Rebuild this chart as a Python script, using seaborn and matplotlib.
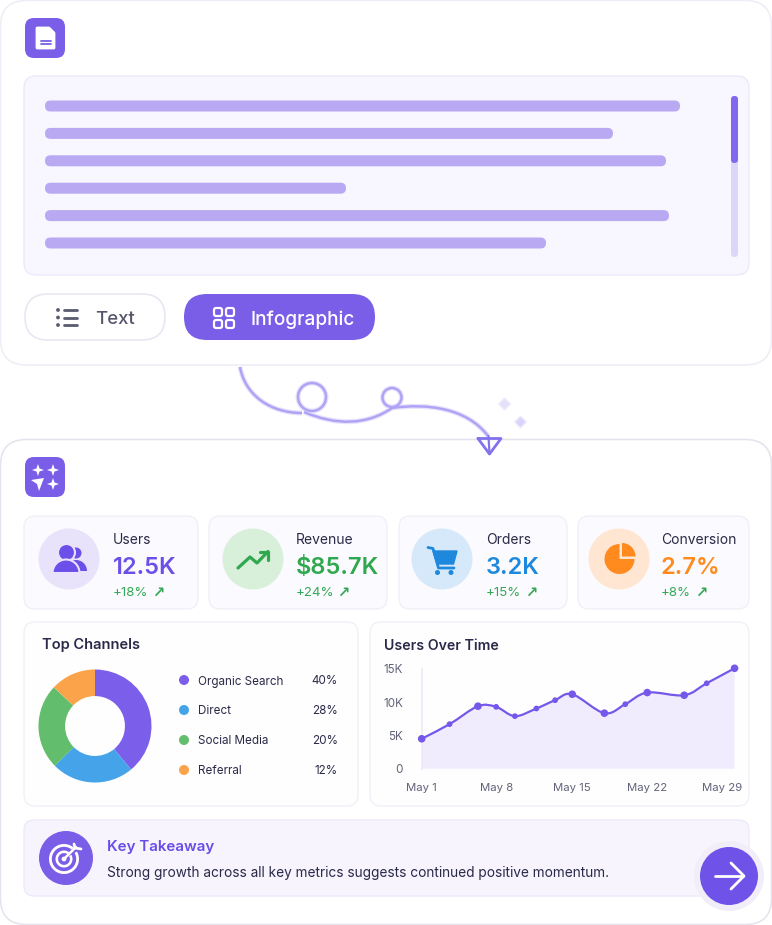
"""Text -> infographic dashboard mock-up, drawn on one pixel-space canvas."""

import matplotlib
matplotlib.use("Agg")
import matplotlib.pyplot as plt
from matplotlib.patches import Circle, FancyBboxPatch, PathPatch, Polygon, Wedge
from matplotlib.path import Path
import numpy as np
import pandas as pd
import seaborn as sns

# ── Data ───────────────────────────────────────────────────────────────────────
line_ends = [680, 613, 666, 346, 669, 546]

kpi_names = ["Users", "Revenue", "Orders", "Conversion"]
kpi_values = ["12.5K", "$85.7K", "3.2K", "2.7%"]
kpi_deltas = ["+18%", "+24%", "+15%", "+8%"]

channel_names = ["Organic Search", "Direct", "Social Media", "Referral"]
channel_labels = ["40%", "28%", "20%", "12%"]
channel_drawn = [39, 23.6, 24.4, 13]  # the slices as drawn differ from their labels

user_days = [0, 2.6, 5.25, 6.95, 8.7, 10.7, 12.45, 14.05, 17.05, 19, 21.05, 24.5, 26.6, 29.2]
user_counts = [4.5, 6.7, 9.4, 9.3, 7.9, 9.05, 10.3, 11.2, 8.35, 9.7, 11.45, 11.05, 12.85, 15.1]
user_big_dot = [1, 0, 1, 0, 0, 0, 0, 1, 1, 0, 1, 1, 0, 1]
y_ticks = [0, 5, 10, 15]
y_tick_labels = ["0", "5K", "10K", "15K"]
x_ticks = [0, 7, 14, 21, 28]
x_tick_labels = ["May 1", "May 8", "May 15", "May 22", "May 29"]

# ── Style ──────────────────────────────────────────────────────────────────────
W, H = 772, 925
PURPLE = "#7A5EE8"
INK = "#2A2A48"
GREEN = "#35A855"
LINE = "#EEECF5"
PANEL_EDGE = "#F0EEF7"
CURVE = "#AFA3F5"
KPI_COLOURS = ["#6C4FE8", "#2FA84F", "#1E88DC", "#FF8A1E"]
KPI_TINTS = ["#E8E2FB", "#D8F0D9", "#D6E9FA", "#FFE6D3"]
SLICE_COLOURS = ["#7B5FEA", "#45A3EA", "#62BE6C", "#FBA34A"]

sns.set_theme(style="white")
plt.rcParams["font.family"] = ["Inter", "DejaVu Sans"]


def box(ax, x0, y0, x1, y1, r, fc, ec="none", lw=1.0, z=1):
    ax.add_patch(FancyBboxPatch(
        (x0 + r, y0 + r), x1 - x0 - 2 * r, y1 - y0 - 2 * r,
        boxstyle=f"round,pad={r},rounding_size={r}",
        fc=fc, ec=ec, lw=lw, zorder=z,
    ))


def stroke(ax, xs, ys, colour, lw=2.0, z=5):
    ax.plot(xs, ys, color=colour, lw=lw, solid_capstyle="round",
            solid_joinstyle="round", zorder=z)


def star(ax, cx, cy, r, colour="white", z=5):
    k = r * 0.25
    pts = [(cx, cy - r), (cx + k, cy - k), (cx + r, cy), (cx + k, cy + k),
           (cx, cy + r), (cx - k, cy + k), (cx - r, cy), (cx - k, cy - k)]
    ax.add_patch(Polygon(pts, fc=colour, ec="none", zorder=z))


def px_axes(fig, x0, y0, x1, y1):
    """Axes placed by pixel box, y measured from the top of the image."""
    return fig.add_axes([x0 / W, 1 - y1 / H, (x1 - x0) / W, (y1 - y0) / H])


def smooth_verts(xs, ys):
    """Bezier vertices of a Catmull-Rom curve passing through the given points."""
    pts = np.column_stack([xs, ys])
    tangents = np.gradient(pts, axis=0)
    verts = [tuple(pts[0])]
    for i in range(len(pts) - 1):
        verts.append(tuple(pts[i] + tangents[i] / 3))
        verts.append(tuple(pts[i + 1] - tangents[i + 1] / 3))
        verts.append(tuple(pts[i + 1]))
    return verts


# ── Top card ───────────────────────────────────────────────────────────────────
def draw_source_card(ax):
    box(ax, 0.5, 0.5, 771.5, 365, 26, "#FFFFFF", LINE, 1.1)

    box(ax, 25, 18, 65, 58, 9, PURPLE)
    ax.add_patch(Polygon([(37, 28), (49, 28), (54, 33), (54, 48), (37, 48)],
                         fc="white", ec="white", lw=2, joinstyle="round", zorder=5))
    stroke(ax, [40.5, 50.5], [40.5, 40.5], PURPLE, 1.3, 6)
    stroke(ax, [40.5, 50.5], [44.3, 44.3], PURPLE, 1.3, 6)

    box(ax, 24, 76, 749, 275, 12, "#F8F6FE", "#EBE7FA", 0.9)
    for y, end in zip(range(0, 6), line_ends):
        yc = 106 + y * 27.4
        box(ax, 45, yc - 5.5, end, yc + 5.5, 5.5, "#B9A9F3", z=2)
    box(ax, 731, 96, 738, 257, 3.5, "#DDD5FA", z=2)
    box(ax, 731, 96, 738, 163, 3.5, "#8268EC", z=3)

    # buttons
    box(ax, 25, 294, 165, 340, 23, "#FFFFFF", "#E9E6F2", 1.2)
    for yc in (310, 317.5, 325):
        ax.add_patch(Circle((58, yc), 1.9, fc="#5A5A70", ec="none", zorder=5))
        stroke(ax, [64, 77], [yc, yc], "#5A5A70", 2.0)
    ax.text(95, 317.5, "Text", fontsize=13.4, color="#55556C", weight="medium",
            ha="left", va="center_baseline", zorder=5)

    box(ax, 184, 294, 375, 340, 23, PURPLE)
    for x0 in (214, 226):
        for y0 in (308, 320):
            box(ax, x0, y0, x0 + 8, y0 + 8, 2, "none", "white", 1.6, z=5)
    ax.text(250, 317.5, "Infographic", fontsize=13.7, color="white", weight="medium",
            ha="left", va="center_baseline", zorder=5)


# ── Hand-drawn connector ───────────────────────────────────────────────────────
def draw_connector(ax):
    codes = [Path.MOVETO] + [Path.CURVE4] * 3
    segments = [
        [(240, 367), (245, 395), (270, 413), (302, 413)],
        [(304, 412), (337, 426), (367, 425), (392, 408)],
        [(392, 408), (427, 403), (467, 408), (488, 436)],
    ]
    for width, colour, z in ((3.6, "#E8E4FC", 5), (1.8, CURVE, 6)):
        for verts in segments:
            ax.add_patch(PathPatch(Path(verts, codes), fc="none", ec=colour, lw=width, zorder=z))
        ax.add_patch(Circle((312, 397), 14, fc="none", ec=colour, lw=width, zorder=z))
        ax.add_patch(Circle((392, 397.5), 9.5, fc="none", ec=colour, lw=width, zorder=z))
    stroke(ax, [478, 501, 489.5, 478], [438.5, 438.5, 454, 438.5], "#8272EE", 2.0, 7)
    stroke(ax, [488.5, 489.5], [436, 454], "#8272EE", 1.6, 7)
    ax.add_patch(Polygon([(504.5, 398), (510.5, 404), (504.5, 410), (498.5, 404)],
                         fc="#E5E0FB", ec="#F0EDFC", lw=1, zorder=6))
    ax.add_patch(Polygon([(520.5, 416), (526.5, 422), (520.5, 428), (514.5, 422)],
                         fc="#DAD3FA", ec="#F0EDFC", lw=1, zorder=6))


# ── KPI row ────────────────────────────────────────────────────────────────────
def draw_users_icon(ax, c):
    ax.add_patch(Circle((76, 553), 5.5, fc=c, ec="none", zorder=5))
    ax.add_patch(Wedge((76, 571), 11, 180, 360, fc=c, ec="none", zorder=5))
    ax.add_patch(Circle((66.5, 552.5), 8.5, fc=c, ec=KPI_TINTS[0], lw=1.5, zorder=6))
    ax.add_patch(Wedge((66, 573), 13.5, 180, 360, fc=c, ec=KPI_TINTS[0], lw=1.5, zorder=6))


def draw_trend_icon(ax, c):
    stroke(ax, [238, 250, 257, 268], [568, 557, 563, 551.5], c, 2.3)
    stroke(ax, [260, 268, 268], [551.5, 551.5, 559.5], c, 2.3)


def draw_cart_icon(ax, c):
    stroke(ax, [428, 433, 438.5, 454], [547.5, 548.5, 568, 568], c, 2.0)
    ax.add_patch(Polygon([(433, 551), (457, 551), (453.5, 564), (437, 564)],
                         fc=c, ec=c, lw=1, zorder=5))
    for x in (437.5, 451):
        ax.add_patch(Circle((x, 572.5), 2.5, fc=c, ec="none", zorder=5))


def draw_pie_icon(ax, c):
    ax.add_patch(Wedge((619.5, 559), 15, 0, 270, fc=c, ec="none", zorder=5))
    ax.add_patch(Wedge((622, 556.5), 13.5, 270, 360, fc=c, ec="none", zorder=5))


def draw_kpis(ax):
    lefts = [24, 209, 399, 578]
    rights = [198, 387, 567, 749]
    circle_x = [69, 253, 442, 619]
    text_x = [113, 296, 486, 661]
    arrow_x = [158, 343.5, 531.5, 701.5]
    icons = [draw_users_icon, draw_trend_icon, draw_cart_icon, draw_pie_icon]
    for i, name in enumerate(kpi_names):
        colour = KPI_COLOURS[i]
        box(ax, lefts[i], 516, rights[i], 609, 11, "#FBFAFE", PANEL_EDGE, 0.9)
        ax.add_patch(Circle((circle_x[i], 559), 30.5, fc=KPI_TINTS[i], ec="none", zorder=3))
        icons[i](ax, colour)
        ax.text(text_x[i], 538, name, fontsize=10, color=INK, ha="left",
                va="center_baseline", zorder=5)
        ax.text(text_x[i], 566, kpi_values[i], fontsize=17.0, color=colour, weight="semibold",
                ha="left", va="center_baseline", zorder=5)
        ax.text(text_x[i], 591, kpi_deltas[i], fontsize=9.5, color=GREEN, ha="left",
                va="center_baseline", zorder=5)
        ax.text(arrow_x[i], 590.5, "↗", fontsize=10.5, color=GREEN, family="DejaVu Sans",
                weight="bold", ha="center", va="center_baseline", zorder=5)


# ── Donut panel ────────────────────────────────────────────────────────────────
def draw_channels(fig, ax):
    box(ax, 24, 622, 358, 806, 11, "#FEFEFF", PANEL_EDGE, 0.9)
    ax.text(42, 644, "Top Channels", fontsize=10.5, color=INK, weight="semibold",
            ha="left", va="center_baseline", zorder=5)

    pie_ax = px_axes(fig, 37, 668, 153, 784)
    pie_ax.pie(channel_drawn, colors=SLICE_COLOURS, startangle=90, counterclock=False,
               radius=1.0, wedgeprops={"width": 0.47, "linewidth": 0})
    pie_ax.set_xlim(-58 / 56.5, 58 / 56.5)
    pie_ax.set_ylim(-58 / 56.5, 58 / 56.5)

    for i, name in enumerate(channel_names):
        y = 680 + i * 30
        ax.add_patch(Circle((184, y), 5, fc=SLICE_COLOURS[i], ec="none", zorder=5))
        ax.text(198, y, name, fontsize=8.4, color=INK, ha="left", va="center_baseline", zorder=5)
        ax.text(338, y, channel_labels[i], fontsize=8.4, color=INK, ha="right",
                va="center_baseline", zorder=5)


# ── Users line panel ───────────────────────────────────────────────────────────
def draw_users_chart(fig, ax):
    box(ax, 370, 622, 749, 806, 11, "#FEFEFF", PANEL_EDGE, 0.9)
    ax.text(384, 644, "Users Over Time", fontsize=10.2, color=INK, weight="semibold",
            ha="left", va="center_baseline", zorder=5)

    df = pd.DataFrame({"day": user_days, "users": user_counts, "big": user_big_dot})
    day_px = 300 / 28
    k_px = 6.65
    line_ax = px_axes(fig, 421.7, 660, 421.7 + 29.2 * day_px, 768.7)
    line_ax.patch.set_alpha(0)

    verts = smooth_verts(df["day"], df["users"])
    codes = [Path.MOVETO] + [Path.CURVE4] * (len(verts) - 1)
    area = verts + [(user_days[-1], 0), (user_days[0], 0), verts[0]]
    area_codes = codes + [Path.LINETO, Path.LINETO, Path.CLOSEPOLY]
    line_ax.add_patch(PathPatch(Path(area, area_codes), fc="#F0ECFD", ec="none", zorder=1))
    line_ax.add_patch(PathPatch(Path(verts, codes), fc="none", ec="#7558EA", lw=1.6,
                                zorder=3, clip_on=False))

    sizes = np.where(df["big"] == 1, 30, 17)
    sns.scatterplot(data=df, x="day", y="users", s=sizes, color="#7558EA", edgecolor="none",
                    ax=line_ax, zorder=4, clip_on=False, legend=False)

    line_ax.set_xticks(x_ticks, x_tick_labels)
    line_ax.set_yticks(y_ticks, y_tick_labels)
    line_ax.set_xlim(0, 29.2)
    line_ax.set_ylim(0, 108.7 / k_px)
    line_ax.set_xlabel("")
    line_ax.set_ylabel("")
    line_ax.tick_params(axis="x", length=0, pad=10, labelsize=8.2, labelcolor="#63637A")
    line_ax.tick_params(axis="y", length=0, pad=13.5, labelsize=8.4, labelcolor="#63637A")
    for side in ("top", "right", "bottom"):
        line_ax.spines[side].set_visible(False)
    line_ax.spines["left"].set_color("#EDEAF7")
    line_ax.spines["left"].set_bounds(0, 15)


# ── Bottom card ────────────────────────────────────────────────────────────────
def draw_result_card(fig, ax):
    box(ax, 0.5, 439.5, 771.5, 924.5, 26, "#FFFFFF", "#E4E2EC", 1.1)

    box(ax, 25, 457, 65, 497, 9, PURPLE)
    star(ax, 38, 470, 6)
    star(ax, 53, 470, 6)
    star(ax, 53, 484, 6)
    ax.add_patch(Polygon([(31, 480), (44, 478), (39, 491), (37, 484)], fc="white", ec="none", zorder=5))

    draw_kpis(ax)
    draw_channels(fig, ax)
    draw_users_chart(fig, ax)

    # takeaway strip
    box(ax, 24, 820, 749, 896, 10, "#F7F4FE", "#ECE8FB", 0.9)
    ax.add_patch(Circle((66, 858), 27, fc=PURPLE, ec="none", zorder=3))
    ax.add_patch(Wedge((64, 859), 15, -30, 310, width=2.8, fc="white", ec="none", zorder=5))
    ax.add_patch(Wedge((64, 859), 8.5, -30, 310, width=2.6, fc="white", ec="none", zorder=5))
    ax.add_patch(Circle((64, 859), 2.4, fc="white", ec="none", zorder=5))
    stroke(ax, [65, 76], [858, 847], "white", 1.8)
    stroke(ax, [74, 75, 81], [844, 848, 849], "white", 2.0)
    ax.text(107, 846, "Key Takeaway", fontsize=10.9, color="#6A4DE6", weight="semibold",
            ha="left", va="center_baseline", zorder=5)
    ax.text(107, 871, "Strong growth across all key metrics suggests continued positive momentum.",
            fontsize=9.85, color=INK, ha="left", va="center_baseline", zorder=5)

    ax.add_patch(Circle((729, 876), 35, fc="#F1EEF9", ec="none", zorder=6))
    ax.add_patch(Circle((729, 876), 29, fc="#6F52E8", ec="none", zorder=7))
    stroke(ax, [715, 743], [876, 876], "white", 2.0, 8)
    stroke(ax, [731, 744, 731], [863, 876, 889], "white", 2.0, 8)


def main():
    fig = plt.figure(figsize=(W / 100, H / 100), dpi=100, facecolor="white")
    canvas = fig.add_axes([0, 0, 1, 1])
    canvas.set_xlim(0, W)
    canvas.set_ylim(H, 0)
    canvas.axis("off")

    draw_source_card(canvas)
    draw_result_card(fig, canvas)
    draw_connector(canvas)

    fig.savefig("out.png", dpi=100, facecolor="white")
    plt.close(fig)


if __name__ == "__main__":
    main()
